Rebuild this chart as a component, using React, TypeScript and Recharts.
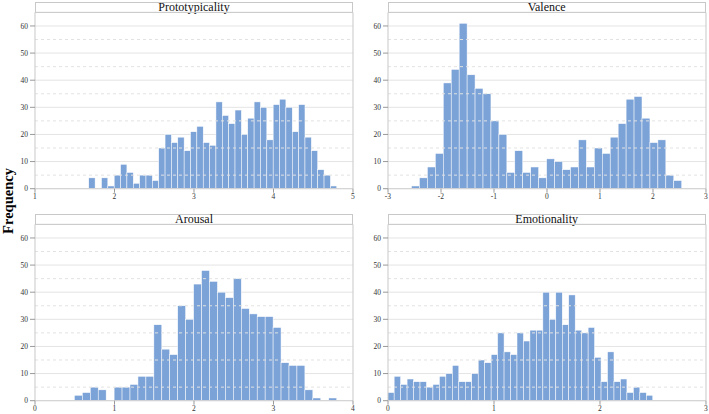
import React from 'react';
import {
  BarChart,
  Bar,
  XAxis,
  YAxis,
  CartesianGrid,
  ReferenceLine,
} from 'recharts';

// Histogram counts, one value per bin
const prototypicalityCounts = [
  4, 0, 4, 1, 5, 9, 6, 2, 5, 5, 3, 15, 20, 17, 19, 14, 21, 23, 17, 16, 32, 27, 24, 29, 20, 26,
  32, 30, 18, 31, 33, 30, 21, 31, 19, 14, 7, 5, 1,
];
const valenceCounts = [
  1, 4, 8, 13, 39, 44, 61, 42, 37, 35, 25, 20, 6, 14, 6, 8, 4, 11, 10, 7, 8, 18, 8, 15, 13, 19,
  24, 33, 34, 26, 17, 18, 5, 3,
];
const arousalCounts = [
  2, 3, 5, 4, 0, 5, 5, 6, 9, 9, 28, 19, 17, 35, 30, 43, 48, 44, 40, 38, 45, 34, 32, 31, 31, 27,
  14, 13, 13, 4, 1, 0, 1,
];
const emotionalityCounts = [
  3, 9, 6, 8, 7, 7, 5, 6, 9, 10, 13, 7, 7, 10, 15, 14, 17, 25, 18, 17, 25, 22, 26, 26, 40, 30,
  40, 28, 39, 26, 25, 27, 16, 7, 18, 7, 8, 3, 5, 3, 2,
];

// bin layout: [first bin edge, bin width]
const prototypicalityBins = [1.68, 0.08];
const valenceBins = [-2.55, 0.15];
const arousalBins = [0.5, 0.1];
const emotionalityBins = [0, 0.061];

const prototypicalityTicks = [1, 2, 3, 4, 5];
const valenceTicks = [-3, -2, -1, 0, 1, 2, 3];
const arousalTicks = [0, 1, 2, 3, 4];
const emotionalityTicks = [0, 1, 2, 3];

const yTicks = [0, 10, 20, 30, 40, 50, 60];
const yHalfTicks = [5, 15, 25, 35, 45, 55];
const yMax = 65;

const SERIF = '"Liberation Serif", "Times New Roman", serif';
const BAR_COLOR = '#7ca3d8';
const Y_AXIS_W = 35;
const PLOT_W = 318;
const RIGHT_M = 3;
const TOP_M = 12.4;
const PLOT_H = 176.3;
const X_AXIS_H = 14;

interface PanelProps {
  title: string;
  counts: number[];
  bins: number[];
  xTicks: number[];
  left: number;
  top: number;
}

function HistPanel({ title, counts, bins, xTicks, left, top }: PanelProps) {
  const [start, width] = bins;
  const data = counts.map((count, i) => ({ x: start + (i + 0.5) * width, count }));
  const lo = xTicks[0];
  const hi = xTicks[xTicks.length - 1];
  const binPx = (PLOT_W * width) / (hi - lo);
  const tick = { fontSize: 7.5, fill: '#333', fontFamily: SERIF };

  // keep the bar centred where recharts puts it, but use the exact bin width
  const renderBar = (props: any) => {
    const { x, y, width: w, height: h } = props;
    if (!h || h <= 0) return <g />;
    const cx = x + w / 2;
    return (
      <rect
        x={cx - binPx / 2}
        y={y}
        width={binPx}
        height={h}
        fill={BAR_COLOR}
        stroke="#ffffff"
        strokeWidth={0.5}
      />
    );
  };

  return (
    <div style={{ position: 'absolute', left, top }}>
      <div
        style={{
          position: 'absolute',
          left: Y_AXIS_W,
          top: 1.7,
          width: PLOT_W,
          height: TOP_M - 1.7,
          boxSizing: 'border-box',
          border: '1px solid #c8c8c8',
          borderBottom: 'none',
          textAlign: 'center',
          fontFamily: SERIF,
          fontSize: 12,
          lineHeight: `${TOP_M - 2.7}px`,
          color: '#111',
        }}
      >
        {title}
      </div>
      <BarChart
        width={Y_AXIS_W + PLOT_W + RIGHT_M}
        height={TOP_M + PLOT_H + X_AXIS_H}
        data={data}
        margin={{ top: TOP_M, right: RIGHT_M, left: 0, bottom: 0 }}
        barGap={0}
      >
        <CartesianGrid vertical={false} stroke="#e4e4e4" />
        {yHalfTicks.map((v) => (
          <ReferenceLine key={v} y={v} stroke="#e2e2e2" strokeDasharray="3 3" />
        ))}
        <ReferenceLine y={yMax} stroke="#c8c8c8" />
        <ReferenceLine x={hi} stroke="#c8c8c8" />
        <XAxis
          type="number"
          dataKey="x"
          domain={[lo, hi]}
          ticks={xTicks}
          interval={0}
          allowDataOverflow
          height={X_AXIS_H}
          tick={tick}
          tickSize={4}
          tickMargin={1}
          axisLine={{ stroke: '#d0d0d0' }}
          tickLine={{ stroke: '#999' }}
        />
        <YAxis
          domain={[0, yMax]}
          ticks={yTicks}
          interval={0}
          allowDataOverflow
          width={Y_AXIS_W}
          tick={tick}
          tickSize={5}
          tickMargin={2}
          axisLine={{ stroke: '#c8c8c8' }}
          tickLine={{ stroke: '#999' }}
        />
        <Bar
          dataKey="count"
          fill={BAR_COLOR}
          barSize={binPx}
          shape={renderBar}
          isAnimationActive={false}
        />
      </BarChart>
    </div>
  );
}

export default function App() {
  return (
    <div
      style={{
        position: 'absolute',
        left: 0,
        top: 0,
        width: 709,
        height: 414,
        background: '#fff',
        overflow: 'hidden',
      }}
    >
      <HistPanel title="Prototypicality" counts={prototypicalityCounts} bins={prototypicalityBins} xTicks={prototypicalityTicks} left={0} top={0} />
      <HistPanel title="Valence" counts={valenceCounts} bins={valenceBins} xTicks={valenceTicks} left={352.7} top={0} />
      <HistPanel title="Arousal" counts={arousalCounts} bins={arousalBins} xTicks={arousalTicks} left={0} top={212} />
      <HistPanel title="Emotionality" counts={emotionalityCounts} bins={emotionalityBins} xTicks={emotionalityTicks} left={352.7} top={212} />
      <div
        style={{
          position: 'absolute',
          left: 8,
          top: 201,
          transform: 'translate(-50%, -50%) rotate(-90deg)',
          fontFamily: SERIF,
          fontWeight: 'bold',
          fontSize: 14.5,
          color: '#000',
          whiteSpace: 'nowrap',
        }}
      >
        Frequency
      </div>
    </div>
  );
}
